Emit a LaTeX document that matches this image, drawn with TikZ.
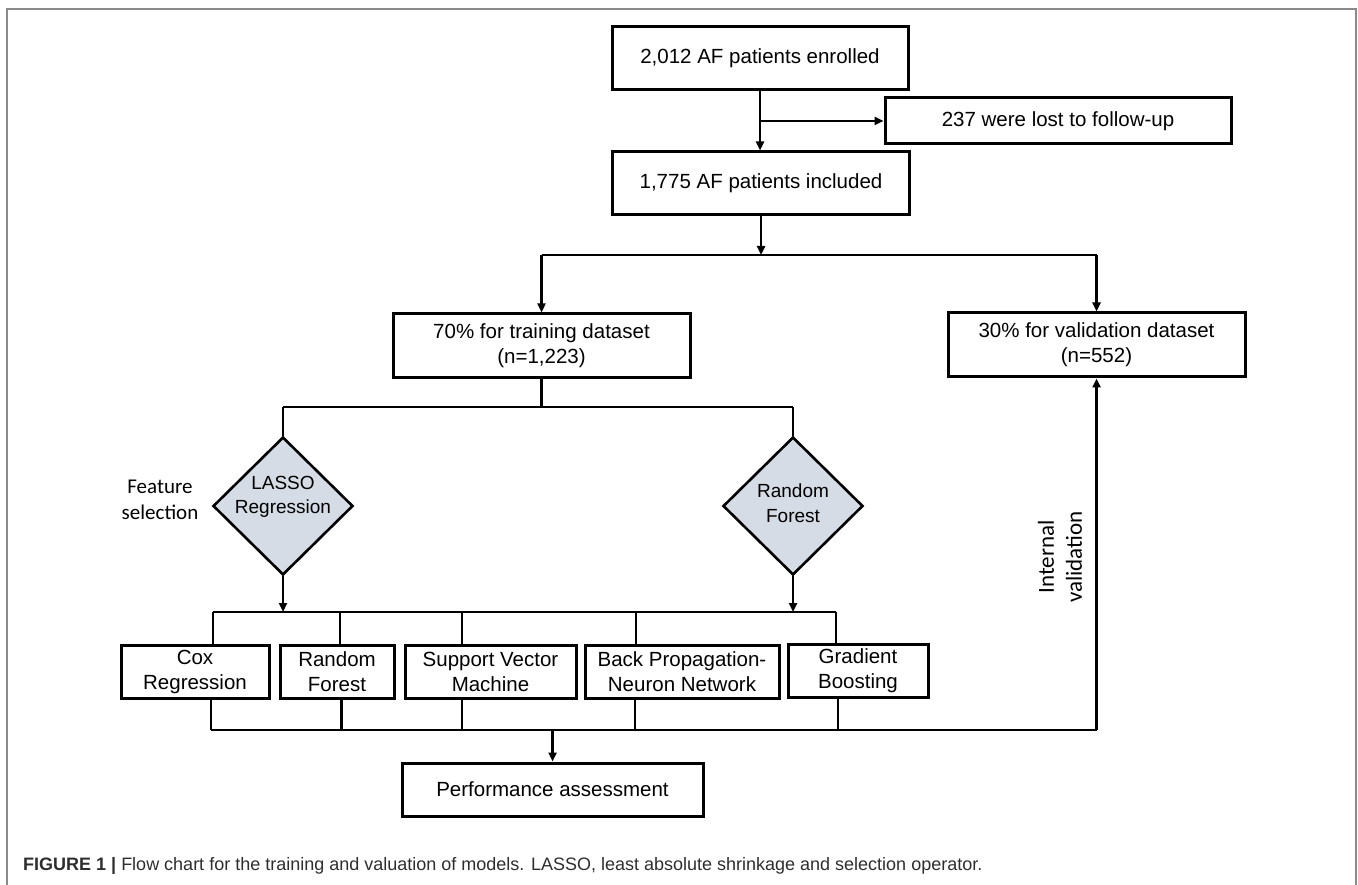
\documentclass[tikz,border=0pt]{standalone}
\usepackage{fontspec}
\setmainfont{Liberation Sans}
\newfontfamily\carl{Carlito}
\usetikzlibrary{arrows.meta,shapes.geometric,calc}
\definecolor{dfill}{HTML}{D6DCE5}
\definecolor{frame}{HTML}{8A8A8A}
\tikzset{
  every picture/.style={line join=miter},
  stepbox/.style={draw, line width=3pt, inner sep=0pt, align=center,
    font=\fontsize{20.5}{25}\selectfont, minimum height=53pt},
  dia/.style={draw, diamond, line width=2.6pt, fill=dfill, inner sep=0pt,
    minimum width=140pt, minimum height=138pt, aspect=1},
  diatext/.style={inner sep=0pt, align=center, font=\fontsize{19}{24.5}\selectfont},
  conn/.style={line width=2.8pt},
  arr/.style={line width=2.8pt, -{Triangle[length=9pt,width=8pt]}},
}
\begin{document}
\begin{tikzpicture}[x=1pt,y=-1pt]
\useasboundingbox (0,0) rectangle (1358,885);
\draw[frame, line width=1.6pt] (7,885) -- (7,9) -- (1356,9) -- (1356,885);

% nodes
\node[stepbox, minimum width=296pt, minimum height=63pt] (b1) at (760,58) {2,012 AF patients enrolled};
\node[stepbox, minimum width=346pt, minimum height=46pt] (lost) at (1058,121) {237 were lost to follow-up};
\node[stepbox, minimum width=297pt, minimum height=63pt] (b2) at (761,183.5) {1,775 AF patients included};
\node[stepbox, minimum width=297pt, minimum height=64pt] (train) at (541.5,346) {70\% for training dataset\\(n=1,223)};
\node[stepbox, minimum width=297pt, minimum height=64pt] (valid) at (1096.5,345) {30\% for validation dataset\\(n=552)};

\node[dia] (lasso) at (283,506) {};
\node[diatext] (lassoT) at (283,497) {LASSO\\Regression};
\node[dia] (rf) at (793,506) {};
\node[diatext] (rfT) at (793,503) {Random\\Forest};

\node[stepbox, minimum width=148pt] (cox) at (195,671.5) {Cox\\Regression};
\node[stepbox, minimum width=114pt] (rfm) at (337,671.5) {Random\\Forest};
\node[stepbox, minimum width=171pt] (svm) at (490.5,671.5) {Support Vector\\Machine};
\node[stepbox, minimum width=194pt] (bp) at (682,671.5) {Back Propagation-\\Neuron Network};
\node[stepbox, minimum width=140pt] (gb) at (858,670.5) {Gradient\\Boosting};
\node[stepbox, minimum width=301pt] (perf) at (552.5,789.5) {Performance assessment};

\node[font=\carl\fontsize{21}{26}\selectfont, align=center] (fs) at (160,500) {Feature\\selection};
\node[font=\carl\fontsize{23}{28}\selectfont, align=center, rotate=90] (iv) at (1060,557) {Internal\\validation};

\node[anchor=base west, inner sep=0pt, font=\fontsize{18}{21}\selectfont, text=black!82] (cap) at (23,870)
  {\textbf{FIGURE 1 |} Flow chart for the training and valuation of models. LASSO, least absolute shrinkage and selection operator.};

% junction coordinates
\coordinate (j1) at (b1.south |- lost.west);
\coordinate (j2) at (761,255);
\coordinate (tl) at (train.north |- j2);
\coordinate (vr) at (valid.north |- j2);
\coordinate (j3) at (train.south |- 0,407);
\coordinate (ll) at (lasso.north |- j3);
\coordinate (rr) at (rf.north |- j3);
\coordinate (h1) at (213,612);
\coordinate (h2) at (340,612);
\coordinate (h3) at (462,612);
\coordinate (h4) at (636,612);
\coordinate (h5) at (836,612);
\coordinate (g1) at (211,730);
\coordinate (g2) at (341.5,730);
\coordinate (g3) at (462,730);
\coordinate (g4) at (635,730);
\coordinate (g5) at (838,730);
\coordinate (g6) at (valid.south |- g1);
\coordinate (gp) at (perf.north |- g1);

% connectors
\draw[arr] (b1.south) -- (b1.south |- b2.north);
\draw[arr] (j1) -- (lost.west);
\draw[arr] (b2.south) -- (j2);
\draw[conn] (tl) -- (vr);
\draw[arr] (tl) -- (train.north);
\draw[arr] (vr) -- (valid.north);
\draw[conn] (train.south) -- (j3);
\draw[conn] (ll) -- (rr);
\draw[conn] (ll) -- (lasso.north);
\draw[conn] (rr) -- (rf.north);
\draw[arr] (lasso.south) -- (lasso.south |- h1);
\draw[arr] (rf.south) -- (rf.south |- h1);
\draw[conn] (h1) -- (h5);
\draw[conn] (h1) -- (h1 |- cox.north);
\draw[conn] (h2) -- (h2 |- rfm.north);
\draw[conn] (h3) -- (h3 |- svm.north);
\draw[conn] (h4) -- (h4 |- bp.north);
\draw[conn] (h5) -- (h5 |- gb.north);
\draw[conn] (g1 |- cox.south) -- (g1);
\draw[conn] (g2 |- rfm.south) -- (g2);
\draw[conn] (g3 |- svm.south) -- (g3);
\draw[conn] (g4 |- bp.south) -- (g4);
\draw[conn] (g5 |- gb.south) -- (g5);
\draw[conn] (g1) -- (g6);
\draw[arr] (g6) -- (valid.south);
\draw[arr] (gp) -- (perf.north);
\end{tikzpicture}
\end{document}
